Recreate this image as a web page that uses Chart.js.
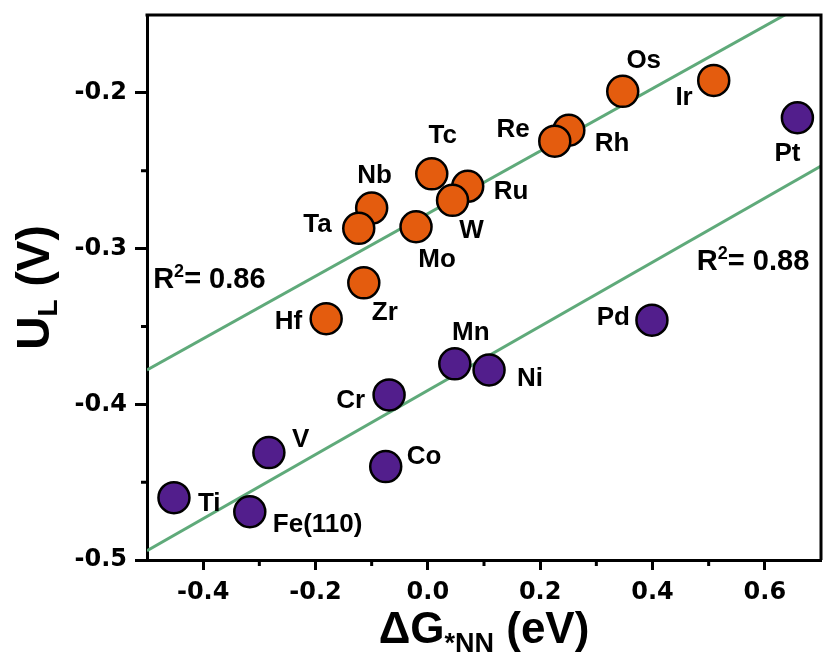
<!DOCTYPE html>
<html>
<head>
<meta charset="utf-8">
<script src="https://cdn.jsdelivr.net/npm/chart.js@4.4.1/dist/chart.umd.min.js"></script>
<style>
  html, body { margin: 0; padding: 0; background: #fff; }
  #wrap { width: 823px; height: 666px; }
</style>
</head>
<body>
<div id="wrap"><canvas id="ulChart" width="823" height="666"></canvas></div>
<script>
// orange group
const orangeNames = ['Hf', 'Zr', 'Nb', 'Ta', 'Mo', 'Tc', 'Ru', 'W', 'Rh', 'Re', 'Os', 'Ir'];
const orangeDG = [-0.181, -0.114, -0.100, -0.123, -0.021, 0.007, 0.071, 0.044, 0.251, 0.226, 0.347, 0.509];
const orangeUL = [-0.345, -0.322, -0.274, -0.287, -0.286, -0.252, -0.260, -0.269, -0.224, -0.231, -0.199, -0.192];

// purple group
const purpleNames = ['Ti', 'Fe(110)', 'V', 'Cr', 'Co', 'Mn', 'Ni', 'Pd', 'Pt'];
const purpleDG = [-0.452, -0.317, -0.283, -0.069, -0.075, 0.048, 0.109, 0.399, 0.658];
const purpleUL = [-0.460, -0.469, -0.431, -0.394, -0.440, -0.374, -0.378, -0.346, -0.216];

// linear fits
const fitUpperX = [-0.5, 0.7];
const fitUpperY = [-0.378, -0.137];
const fitLowerX = [-0.5, 0.7];
const fitLowerY = [-0.494, -0.247];
const r2Upper = '0.86';
const r2Lower = '0.88';

// ticks
const xTickValues = [-0.4, -0.2, 0, 0.2, 0.4, 0.6];
const xMinorTicks = [-0.3, -0.1, 0.1, 0.3, 0.5];
const yTickValues = [-0.5, -0.4, -0.3, -0.2];
const yMinorTicks = [-0.45, -0.35, -0.25];

// where each label sits relative to its circle: [align, dx, dy(baseline)]
const labelPlace = {
    Hf: ['right', -24, 10], Zr: ['left', 8, 37], Nb: ['center', 3, -25], Ta: ['right', -27, 4],
    Mo: ['center', 21, 40], Tc: ['center', 11, -31], Ru: ['left', 26, 13], W: ['center', 19, 38],
    Rh: ['left', 26, 21], Re: ['right', -25, -4], Os: ['center', 21, -23], Ir: ['right', -21, 25],
    Ti: ['left', 24, 13], 'Fe(110)': ['left', 23, 20], V: ['left', 23, -6], Cr: ['right', -24, 13],
    Co: ['left', 21, -3], Mn: ['center', 16, -24], Ni: ['left', 28, 16], Pd: ['right', -22, 5],
    Pt: ['center', -10, 43]
};

const ORANGE = '#e45c0e';
const PURPLE = '#521e8c';
const GREEN = '#5faa7a';
const ARIAL = '"Liberation Sans", Arial, sans-serif';

function toPoints(xs, ys) {
    return xs.map((x, i) => ({ x: x, y: ys[i] }));
}

// draws text made of pieces with own size / vertical shift
function drawRich(ctx, parts, x, y, align) {
    let total = 0;
    parts.forEach(p => {
        ctx.font = 'bold ' + p.size + 'px ' + ARIAL;
        p.w = ctx.measureText(p.text).width;
        total += p.w;
    });
    let cx = x;
    if (align === 'center') cx = x - total / 2;
    if (align === 'right') cx = x - total;
    ctx.textAlign = 'left';
    ctx.textBaseline = 'alphabetic';
    parts.forEach(p => {
        ctx.font = 'bold ' + p.size + 'px ' + ARIAL;
        ctx.fillText(p.text, cx, y + (p.dy || 0));
        cx += p.w;
    });
}

const decorPlugin = {
    id: 'decor',
    afterDatasetsDraw(chart) {
        const ctx = chart.ctx;
        const xs = chart.scales.x, ys = chart.scales.y;
        ctx.save();
        ctx.fillStyle = '#000';
        // element labels
        [0, 1].forEach(di => {
            const meta = chart.getDatasetMeta(di);
            const names = di === 0 ? orangeNames : purpleNames;
            meta.data.forEach((el, i) => {
                const pl = labelPlace[names[i]];
                drawRich(ctx, [{ text: names[i], size: 26 }], el.x + pl[1], el.y + pl[2], pl[0]);
            });
        });
        // R^2 labels
        drawRich(ctx, [{ text: 'R', size: 29 }, { text: '2', size: 18, dy: -11 }, { text: '= ' + r2Upper, size: 29 }],
            xs.getPixelForValue(-0.489), ys.getPixelForValue(-0.325), 'left');
        drawRich(ctx, [{ text: 'R', size: 29 }, { text: '2', size: 18, dy: -11 }, { text: '= ' + r2Lower, size: 29 }],
            xs.getPixelForValue(0.479), ys.getPixelForValue(-0.314), 'left');
        ctx.restore();
    },
    afterDraw(chart) {
        const ctx = chart.ctx;
        const a = chart.chartArea;
        const xs = chart.scales.x, ys = chart.scales.y;
        ctx.save();
        ctx.strokeStyle = '#000';
        ctx.lineWidth = 3;
        // frame top + right
        ctx.beginPath();
        ctx.moveTo(a.left - 1.5, a.top);
        ctx.lineTo(a.right, a.top);
        ctx.lineTo(a.right, a.bottom);
        ctx.stroke();
        // minor ticks
        ctx.beginPath();
        xMinorTicks.forEach(v => {
            const px = xs.getPixelForValue(v);
            ctx.moveTo(px, a.bottom);
            ctx.lineTo(px, a.bottom + 6);
        });
        yMinorTicks.forEach(v => {
            const py = ys.getPixelForValue(v);
            ctx.moveTo(a.left, py);
            ctx.lineTo(a.left - 6, py);
        });
        ctx.stroke();

        // axis titles
        ctx.fillStyle = '#000';
        const cx = (a.left + a.right) / 2;
        drawRich(ctx, [
            { text: '\u0394G', size: 44 },
            { text: '*NN', size: 27, dy: 9 },
            { text: ' (eV)', size: 44 }
        ], cx, 643, 'center');

        const cy = (a.top + a.bottom) / 2;
        ctx.translate(49, cy);
        ctx.rotate(-Math.PI / 2);
        drawRich(ctx, [
            { text: 'U', size: 46 },
            { text: 'L', size: 28, dy: 8 },
            { text: ' (V)', size: 46 }
        ], 0, 0, 'center');
        ctx.restore();
    }
};

const tickFont = { family: '"DejaVu Sans", sans-serif', weight: 'bold', size: 24 };

new Chart(document.getElementById('ulChart'), {
    type: 'scatter',
    data: {
        datasets: [
            {
                label: 'orange',
                data: toPoints(orangeDG, orangeUL),
                backgroundColor: ORANGE,
                borderColor: '#000',
                borderWidth: 2.5,
                pointRadius: 15.5,
                order: 1
            },
            {
                label: 'purple',
                data: toPoints(purpleDG, purpleUL),
                backgroundColor: PURPLE,
                borderColor: '#000',
                borderWidth: 2.5,
                pointRadius: 15.5,
                order: 1
            },
            {
                label: 'fit1',
                data: toPoints(fitUpperX, fitUpperY),
                showLine: true,
                borderColor: GREEN,
                borderWidth: 3,
                pointRadius: 0,
                order: 3
            },
            {
                label: 'fit2',
                data: toPoints(fitLowerX, fitLowerY),
                showLine: true,
                borderColor: GREEN,
                borderWidth: 3,
                pointRadius: 0,
                order: 3
            }
        ]
    },
    options: {
        responsive: false,
        animation: false,
        devicePixelRatio: 1,
        layout: { autoPadding: false, padding: { left: 0, right: 2, top: 15, bottom: 0 } },
        plugins: {
            legend: { display: false },
            tooltip: { enabled: false }
        },
        scales: {
            x: {
                type: 'linear',
                min: -0.5,
                max: 0.7,
                afterBuildTicks: s => { s.ticks = xTickValues.map(v => ({ value: v })); },
                afterFit: s => { s.height = 106; s.paddingLeft = 0; s.paddingRight = 0; },
                ticks: {
                    font: tickFont,
                    color: '#000',
                    padding: 8,
                    maxRotation: 0,
                    autoSkip: false,
                    callback: v => Number(v).toFixed(1)
                },
                grid: { drawOnChartArea: false, drawTicks: true, tickLength: 10, tickWidth: 3, tickColor: '#000' },
                border: { display: true, color: '#000', width: 3 }
            },
            y: {
                type: 'linear',
                min: -0.5,
                max: -0.15,
                afterBuildTicks: s => { s.ticks = yTickValues.map(v => ({ value: v })); },
                afterFit: s => { s.width = 147; s.paddingTop = 0; s.paddingBottom = 0; },
                ticks: {
                    font: tickFont,
                    color: '#000',
                    padding: 8,
                    autoSkip: false,
                    callback: v => Number(v).toFixed(1)
                },
                grid: { drawOnChartArea: false, drawTicks: true, tickLength: 12, tickWidth: 3, tickColor: '#000' },
                border: { display: true, color: '#000', width: 3 }
            }
        }
    },
    plugins: [decorPlugin]
});
</script>
</body>
</html>
